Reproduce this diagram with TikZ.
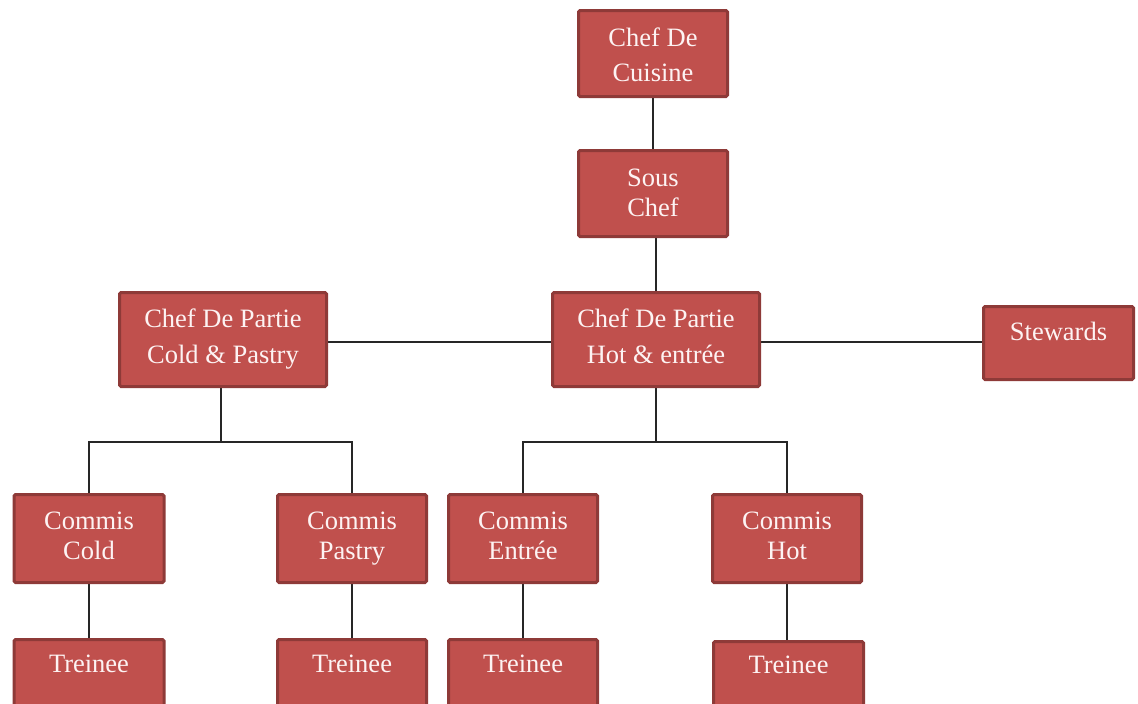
\documentclass[tikz,border=0pt]{standalone}
\usepackage{fontspec}
\setmainfont{Liberation Serif}
\usetikzlibrary{backgrounds}
\definecolor{boxfill}{HTML}{C0504D}
\definecolor{boxline}{HTML}{8E3A38}
\definecolor{boxtext}{HTML}{FDF3F3}
\begin{document}
\begin{tikzpicture}[x=1pt,y=-1pt,
  box/.style={draw=boxline, line width=3pt, fill=boxfill, rounded corners=1.5pt, inner sep=0pt},
  lbl/.style={text=boxtext, align=center, inner sep=0pt, font=\fontsize{26.5}{#1}\selectfont},
  lbl/.default=30,
  conn/.style={line width=1.5pt, draw=black!85}]
\useasboundingbox (0,0) rectangle (1138,704);
% boxes
\node[box, minimum width=149, minimum height=86] (cdc) at (653,53.5) {};
\node[box, minimum width=149, minimum height=86] (sous) at (653,193.5) {};
\node[box, minimum width=207, minimum height=94] (cdpc) at (223,339.5) {};
\node[box, minimum width=207, minimum height=94] (cdph) at (656,339.5) {};
\node[box, minimum width=150, minimum height=73] (stew) at (1058.5,343) {};
\node[box, minimum width=150, minimum height=88] (cc) at (89,538.5) {};
\node[box, minimum width=149, minimum height=88] (cp) at (352,538.5) {};
\node[box, minimum width=149, minimum height=88] (ce) at (523,538.5) {};
\node[box, minimum width=149, minimum height=88] (ch) at (787,538.5) {};
\node[box, minimum width=150, minimum height=69] (tc) at (89,674) {};
\node[box, minimum width=149, minimum height=69] (tp) at (352,674) {};
\node[box, minimum width=149, minimum height=69] (te) at (523,674) {};
\node[box, minimum width=150, minimum height=69] (th) at (788.5,676) {};
% labels
\node[lbl=35] (cdc-t) at (653,55) {Chef De\\Cuisine};
\node[lbl=30] (sous-t) at (653,193) {Sous\\Chef};
\node[lbl=36] (cdpc-t) at (223,339) {Chef De Partie\\Cold \& Pastry};
\node[lbl=36] (cdph-t) at (656,336) {Chef De Partie\\Hot \& entrée};
\node[lbl] (stew-t) at (1058.5,331) {Stewards};
\node[lbl=30] (cc-t) at (89,535.5) {Commis\\Cold};
\node[lbl=30] (cp-t) at (352,538.5) {Commis\\Pastry};
\node[lbl=30] (ce-t) at (523,535.5) {Commis\\Entrée};
\node[lbl=30] (ch-t) at (787,535.5) {Commis\\Hot};
\node[lbl] (tc-t) at (89,664) {Treinee};
\node[lbl] (tp-t) at (352,664) {Treinee};
\node[lbl] (te-t) at (523,664) {Treinee};
\node[lbl] (th-t) at (788.5,665) {Treinee};
% connectors
\coordinate (b1) at (221,442);
\coordinate (b2) at (656,442);
\begin{pgfonlayer}{background}
\draw[conn] (cdc.south) -- (sous.north);
\draw[conn] (cdph.north) -- (cdph.north |- sous.south);
\draw[conn] ([yshift=-2.5pt]cdpc.east) -- ([yshift=-2.5pt]cdph.west);
\draw[conn] ([yshift=-2.5pt]cdph.east) -- ([yshift=-2.5pt]cdph.east -| stew.west);
\draw[conn] (b1 |- cdpc.south) -- (b1);
\draw[conn] (cc.north) |- (b1) -| (cp.north);
\draw[conn] (cdph.south) -- (b2);
\draw[conn] (ce.north) |- (b2) -| (ch.north);
\draw[conn] (cc.south) -- (tc.north);
\draw[conn] (cp.south) -- (tp.north);
\draw[conn] (ce.south) -- (te.north);
\draw[conn] (ch.south) -- (ch.south |- th.north);
\end{pgfonlayer}
\end{tikzpicture}
\end{document}
